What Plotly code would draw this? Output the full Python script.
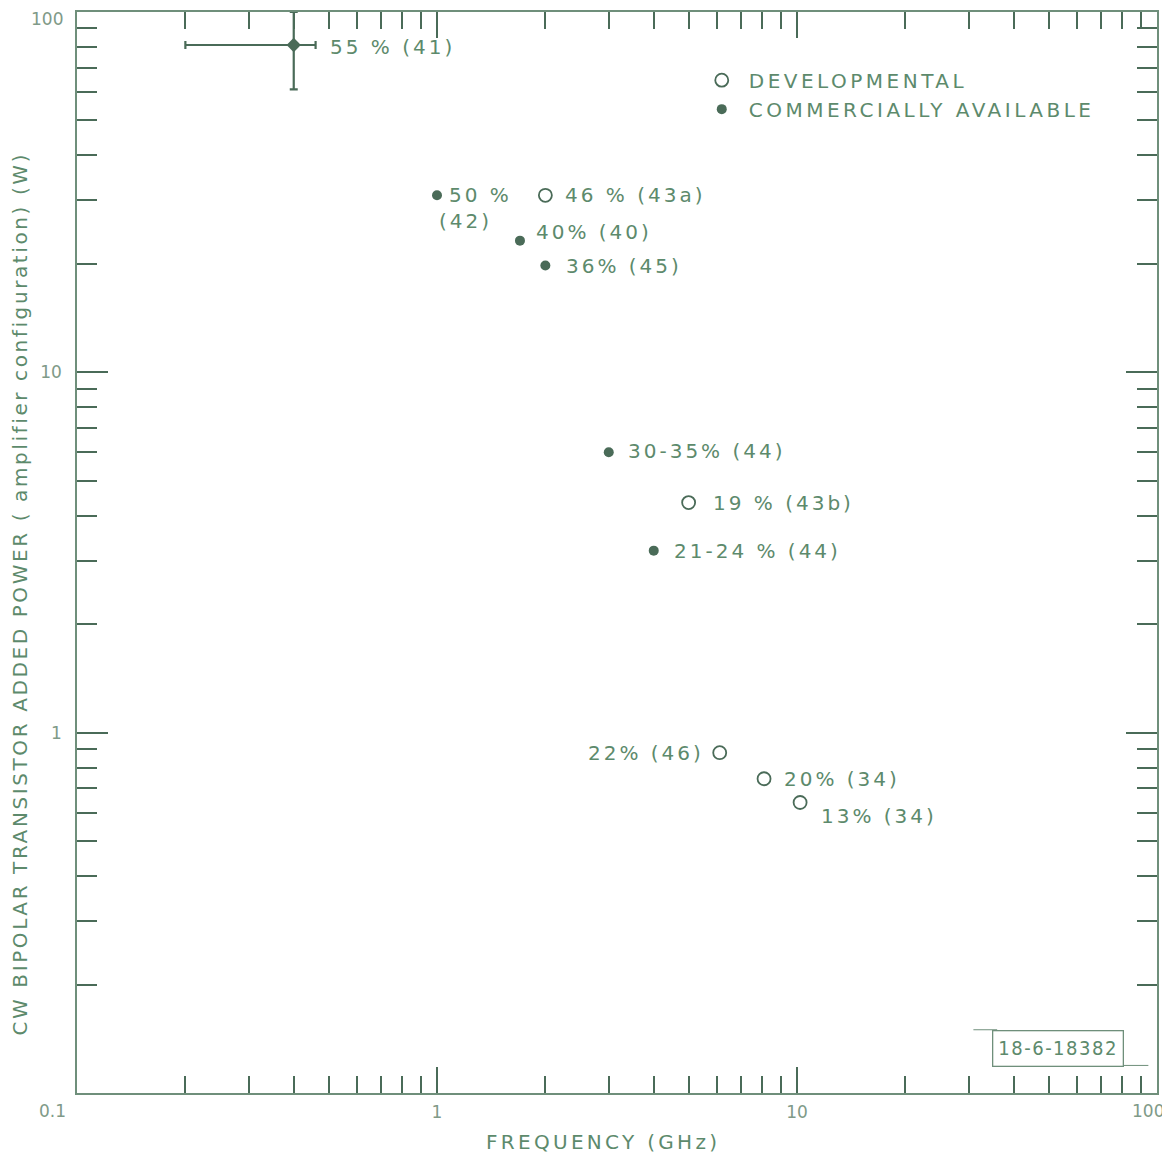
import numpy as np
import plotly.graph_objects as go

# ---- data ----
dev_freq = [2.0, 5.0, 6.1, 8.1, 10.2]
dev_power = [31.0, 4.35, 0.88, 0.745, 0.64]
dev_labels = ["46 % (43a)", "19 % (43b)", "22% (46)", "20% (34)", "13% (34)"]

com_freq = [1.0, 1.7, 2.0, 3.0, 4.0]
com_power = [31.0, 23.2, 19.8, 6.0, 3.2]
com_labels = ["50 %", "40% (40)", "36% (45)", "30-35% (44)", "21-24 % (44)"]

err_freq = [0.4]
err_power = [81.0]
err_x_low = [0.2]
err_x_high = [0.46]
err_y_low = [61.0]
err_y_high = [100.0]
err_label = ["55 % (41)"]

x_ticks = [0.1, 1, 10, 100]
x_ticktext = ["0.1", "1", "10", "100"]
y_ticks = [1, 10, 100]
y_ticktext = ["1", "10", "100"]

DARK = "#4a6b58"
TXT = "#5d8a6c"
AX = "#6f8f7b"
TICKTXT = "#809a88"
FONT = "DejaVu Sans"


def sp(t, px):
    return f'<span style="letter-spacing:{px}px">{t}</span>'


fig = go.Figure()

fig.add_trace(go.Scatter(
    x=err_freq, y=err_power, mode="markers",
    marker=dict(size=11, color=DARK, symbol="diamond"),
    error_x=dict(type="data", symmetric=False,
                 array=[h - f for h, f in zip(err_x_high, err_freq)],
                 arrayminus=[f - l for l, f in zip(err_x_low, err_freq)],
                 color=DARK, thickness=2.2, width=4),
    error_y=dict(type="data", symmetric=False,
                 array=[h - p for h, p in zip(err_y_high, err_power)],
                 arrayminus=[p - l for l, p in zip(err_y_low, err_power)],
                 color=DARK, thickness=2.2, width=4),
    showlegend=False, hoverinfo="skip"))

fig.add_trace(go.Scatter(
    x=dev_freq, y=dev_power, mode="markers", name=sp("DEVELOPMENTAL", 3.5),
    marker=dict(size=13, color="white", symbol="circle",
                line=dict(color=DARK, width=1.8))))

fig.add_trace(go.Scatter(
    x=com_freq, y=com_power, mode="markers", name=sp("COMMERCIALLY AVAILABLE", 3.5),
    marker=dict(size=10, color=DARK, symbol="circle")))


def lab(x, y, t, xs, ys, anchor="left"):
    fig.add_annotation(x=np.log10(x), y=np.log10(y), text=sp(t, 3), showarrow=False,
                       xanchor=anchor, yanchor="middle", xshift=xs, yshift=ys,
                       font=dict(family=FONT, size=20, color=TXT))


lab(err_freq[0], err_power[0], err_label[0], 34, -2)
dev_shifts = [(18, 0), (22, 0), (-14, 0), (18, 0), (19, -13)]
for f, p, t, (xs, ys) in zip(dev_freq, dev_power, dev_labels, dev_shifts):
    lab(f, p, t, xs, ys, "right" if xs < 0 else "left")
com_shifts = [(10, 0), (14, 9), (19, -1), (17, 1), (18, 0)]
for f, p, t, (xs, ys) in zip(com_freq, com_power, com_labels, com_shifts):
    lab(f, p, t, xs, ys)
lab(com_freq[0], com_power[0], "(42)", 0, -26)

# drawing id box
fig.add_annotation(xref="paper", yref="paper", x=0.969, y=0.0416, xanchor="right",
                   yanchor="middle", text=sp("18-6-18382", 1.5), showarrow=False,
                   font=dict(family="DejaVu Sans Condensed", size=20, color=TXT),
                   bordercolor=AX, borderwidth=1.3, borderpad=5, bgcolor="white")
fig.add_shape(type="line", xref="paper", yref="paper", x0=0.83, x1=0.852,
              y0=0.0585, y1=0.0585, line=dict(color=AX, width=1))
fig.add_shape(type="line", xref="paper", yref="paper", x0=0.969, x1=0.992,
              y0=0.0255, y1=0.0255, line=dict(color=AX, width=1))

minor_vals = []
for d in [0.1, 1, 10]:
    minor_vals += [d * k for k in range(2, 10)]

axis_common = dict(type="log", showgrid=False, zeroline=False, showline=True,
                   linecolor=AX, linewidth=1.5, mirror="ticks", ticks="inside",
                   tickcolor=DARK, tickwidth=1.5, automargin=False,
                   tickfont=dict(family=FONT, size=17, color=TICKTXT))

# end tick labels are drawn as annotations so they stay inside the page
x_inner_text = [t if 0 < i < len(x_ticks) - 1 else "" for i, t in enumerate(x_ticktext)]
y_inner_text = [t if i < len(y_ticks) - 1 else "" for i, t in enumerate(y_ticktext)]

fig.update_xaxes(**axis_common, range=[-1, 2], tickvals=x_ticks, ticktext=x_inner_text,
                 ticklen=26, ticklabelstandoff=3,
                 minor=dict(ticks="inside", ticklen=17, tickvals=minor_vals,
                            tickcolor=DARK, tickwidth=1.5, showgrid=False))
fig.update_yaxes(**axis_common, range=[-1, 2], tickvals=y_ticks, ticktext=y_inner_text,
                 ticklen=31, ticklabelstandoff=10,
                 minor=dict(ticks="inside", ticklen=20, tickvals=minor_vals,
                            tickcolor=DARK, tickwidth=1.5, showgrid=False))

tick_font = dict(family=FONT, size=17, color=TICKTXT)
fig.add_annotation(xref="x", yref="paper", x=np.log10(x_ticks[0]), y=0, yshift=-18,
                   xshift=-25, text=x_ticktext[0], showarrow=False, xanchor="center",
                   yanchor="middle", font=tick_font)
fig.add_annotation(xref="x", yref="paper", x=np.log10(x_ticks[-1]), y=0, yshift=-18,
                   xshift=-9, text=x_ticktext[-1], showarrow=False, xanchor="center",
                   yanchor="middle", font=tick_font)
fig.add_annotation(xref="paper", yref="y", x=0, y=np.log10(y_ticks[-1]), xshift=-12,
                   yshift=-7, text=y_ticktext[-1], showarrow=False, xanchor="right",
                   yanchor="middle", font=tick_font)

fig.add_annotation(xref="paper", yref="paper", x=0.487, y=-0.0453, xanchor="center",
                   yanchor="middle", showarrow=False,
                   text=sp("FREQUENCY (GHz)", 3.3),
                   font=dict(family=FONT, size=20, color=TXT))

fig.add_annotation(xref="paper", yref="paper", x=-0.0528, y=0.462, xanchor="center",
                   yanchor="middle", textangle=-90, showarrow=False,
                   text=sp("CW BIPOLAR TRANSISTOR ADDED POWER ( amplifier configuration) (W)", 2.6),
                   font=dict(family=FONT, size=20, color=TXT))

fig.update_layout(
    width=1162, height=1150, paper_bgcolor="white", plot_bgcolor="white",
    margin=dict(l=69, r=13, t=4, b=65),
    legend=dict(x=0.572, y=0.955, xanchor="left", yanchor="top",
                font=dict(family=FONT, size=20, color=TXT),
                bgcolor="rgba(0,0,0,0)", itemwidth=44, tracegroupgap=2),
)

fig.write_html("out.html")
